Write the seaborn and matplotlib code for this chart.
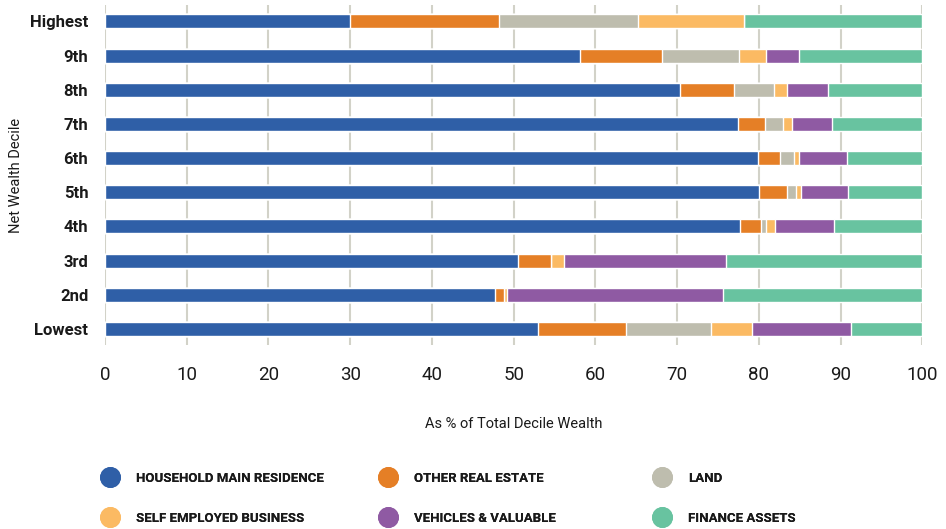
import numpy as np
import pandas as pd
import matplotlib
matplotlib.use('Agg')
import matplotlib.pyplot as plt
from matplotlib.lines import Line2D
import seaborn as sns

# Data (share of total decile wealth, %)
deciles = ['Highest', '9th', '8th', '7th', '6th', '5th', '4th', '3rd', '2nd', 'Lowest']
categories = ['HOUSEHOLD MAIN RESIDENCE', 'OTHER REAL ESTATE', 'LAND',
              'SELF EMPLOYED BUSINESS', 'VEHICLES & VALUABLE', 'FINANCE ASSETS']
main_residence = [30.0, 58.1, 70.3, 77.4, 79.9, 80.0, 77.7, 50.5, 47.7, 53.0]
other_real_estate = [18.2, 10.1, 6.7, 3.3, 2.7, 3.4, 2.5, 4.1, 1.1, 10.8]
land = [17.0, 9.4, 4.8, 2.2, 1.7, 1.1, 0.7, 0.0, 0.0, 10.4]
self_employed = [13.0, 3.3, 1.6, 1.2, 0.6, 0.6, 1.1, 1.6, 0.4, 5.0]
vehicles = [0.0, 4.0, 5.1, 4.9, 5.9, 5.8, 7.2, 19.8, 26.4, 12.1]
finance = [21.8, 15.1, 11.5, 11.0, 9.2, 9.1, 10.8, 24.0, 24.4, 8.7]

colors = ['#2F5FA7', '#E57F26', '#BEBDAE', '#FBBA63', '#8F5AA3', '#68C3A0']

df = pd.DataFrame({'decile': deciles})
for cat, vals in zip(categories, [main_residence, other_real_estate, land,
                                  self_employed, vehicles, finance]):
    df[cat] = vals
cum = df[categories].cumsum(axis=1)

sns.set_theme(style='white')
plt.rcParams['font.family'] = ['Roboto', 'DejaVu Sans']

fig = plt.figure(figsize=(9.46, 5.29), dpi=100)
ax = fig.add_axes([0.111, 0.348, 0.864, 0.642])

# stacked bars: draw the cumulative totals from the outermost layer inwards
for cat, col in reversed(list(zip(categories, colors))):
    sns.barplot(x=cum[cat], y=df['decile'], order=deciles, color=col,
                orient='h', width=0.41, saturation=1, ax=ax, zorder=3)

ax.set_xlim(0, 100)
ax.set_ylim(9.47, -0.47)
ax.set_xticks(np.arange(0, 101, 10))
ax.grid(axis='x', color='#D2D2C8', linewidth=1.5, zorder=0)
for s in ax.spines.values():
    s.set_visible(False)
ax.tick_params(axis='x', length=7, width=1.5, color='#D2D2C8', pad=8,
               labelsize=13.5, labelcolor='#1a1a1a')
ax.tick_params(axis='y', length=0, pad=12)
for lab in ax.get_yticklabels():
    lab.set_fontweight('bold')
    lab.set_fontsize(12)
    lab.set_color('#1a1a1a')

ax.set_xlabel('As % of Total Decile Wealth', fontsize=10.5, color='#1a1a1a', labelpad=24)
ax.set_ylabel('Net Wealth Decile', fontsize=10.5, color='#1a1a1a', labelpad=10)
ax.yaxis.set_label_coords(-0.1, 0.5)

# legend: three fixed columns of two rows
handles = [Line2D([0], [0], marker='o', linestyle='', markersize=14,
                  markerfacecolor=c, markeredgecolor=c) for c in colors]
col_x = [0.0896, 0.3835, 0.6732]
for j, x0 in enumerate(col_x):
    idx = [j, j + 3]
    leg = fig.legend([handles[i] for i in idx], [categories[i] for i in idx],
                     loc='upper left', bbox_to_anchor=(x0, 0.131),
                     frameon=False, handletextpad=1.0, labelspacing=2.08,
                     prop={'weight': 'bold', 'size': 9.5})
    for t in leg.get_texts():
        t.set_color('#1a1a1a')
    fig.add_artist(leg)

fig.savefig('out.png', dpi=100)
